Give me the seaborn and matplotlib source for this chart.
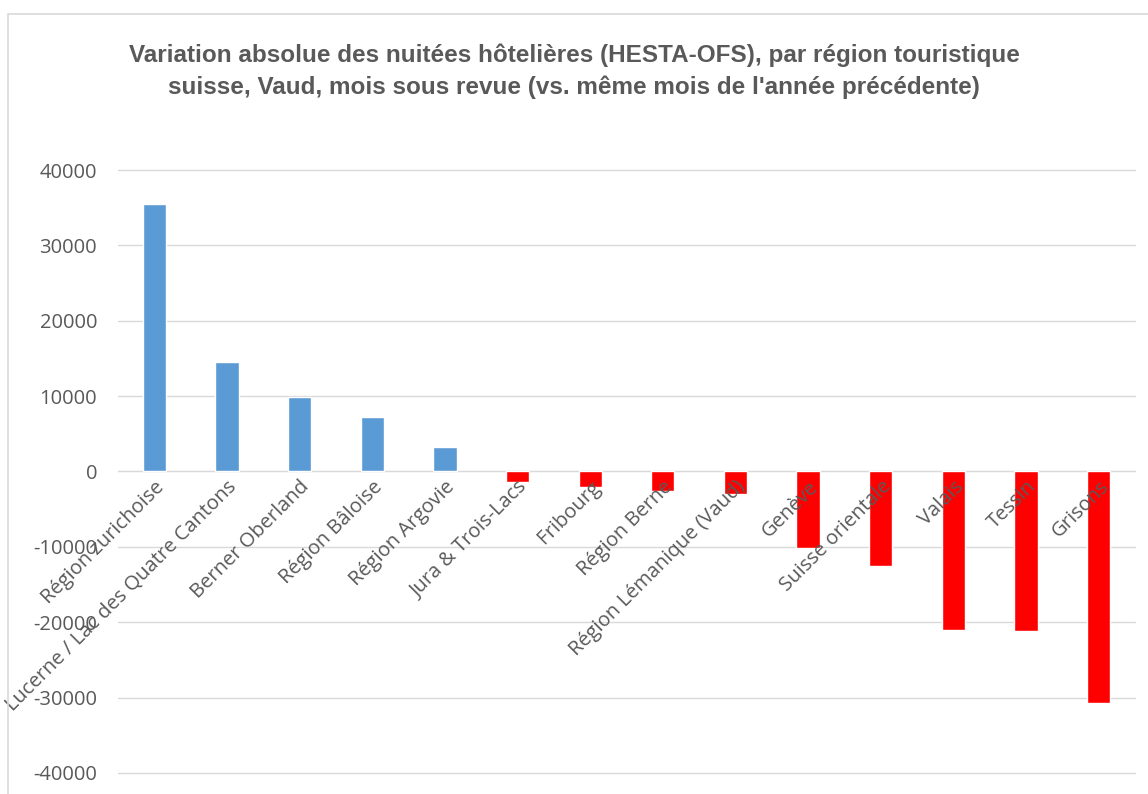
import numpy as np
import pandas as pd
import matplotlib
matplotlib.use("Agg")
import matplotlib.pyplot as plt
import seaborn as sns
from matplotlib.patches import Rectangle

# Data
regions = [
    "Région zurichoise", "Lucerne / Lac des Quatre Cantons", "Berner Oberland",
    "Région Bâloise", "Région Argovie", "Jura & Trois-Lacs", "Fribourg",
    "Région Berne", "Région Lémanique (Vaud)", "Genève", "Suisse orientale",
    "Valais", "Tessin", "Grisons",
]
variation = [35500, 14500, 9900, 7200, 3200, -1400, -2050,
             -2600, -3050, -10100, -12500, -21000, -21200, -30700]
y_ticks = [-40000, -30000, -20000, -10000, 0, 10000, 20000, 30000, 40000]

title = ("Variation absolue des nuitées hôtelières (HESTA-OFS), par région touristique\n"
         "suisse, Vaud, mois sous revue (vs. même mois de l'année précédente)")

df = pd.DataFrame({"Région": regions, "Variation": variation})
colors = ["#5B9BD5" if v >= 0 else "#FF0000" for v in variation]

sns.set_style("white")
plt.rcParams["font.family"] = ["Open Sans", "DejaVu Sans"]

grey = "#595959"
fig = plt.figure(figsize=(11.48, 7.94), dpi=100)
ax = fig.add_axes([118 / 1148, 1 - 773 / 794, 1017 / 1148, 603 / 794])

sns.barplot(data=df, x="Région", y="Variation", hue="Région", palette=colors,
            legend=False, width=0.32, saturation=1, ax=ax, zorder=1)

ax.set_ylim(-40000, 40000)
ax.set_xlim(-0.5, len(regions) - 0.5)
ax.set_yticks(y_ticks)
ax.set_yticklabels([str(t) for t in y_ticks])
ax.grid(False)
# gridlines drawn behind the bars, tick labels stay on top
for t in y_ticks:
    ax.axhline(t, color="#d9d9d9", linewidth=1, zorder=0, clip_on=False)
ax.set_axisbelow(False)
ax.set_xlabel("")
ax.set_ylabel("")

for s in ["top", "right", "left"]:
    ax.spines[s].set_visible(False)
ax.spines["bottom"].set_position(("data", 0))
ax.spines["bottom"].set_color("#d9d9d9")
ax.spines["bottom"].set_zorder(0)

ax.tick_params(axis="y", length=0, labelsize=14.5, labelcolor=grey, pad=15)
ax.tick_params(axis="x", length=0, labelsize=14.5, labelcolor=grey, pad=4)
for lbl in ax.get_xticklabels():
    lbl.set_rotation(45)
    lbl.set_ha("right")
    lbl.set_rotation_mode("anchor")
    lbl.set_va("top")

fig.text(0.5, 0.91, title, ha="center", va="center", fontsize=17.5,
         fontweight="bold", color=grey, linespacing=1.45,
         family=["Liberation Sans Narrow", "Liberation Sans", "DejaVu Sans"])

fig.patches.append(Rectangle((8 / 1148, -0.05), 1.2, 1 - 14 / 794 + 0.05,
                             transform=fig.transFigure, fill=False,
                             edgecolor="#d9d9d9", linewidth=1.2))

fig.savefig("out.png", dpi=100)
